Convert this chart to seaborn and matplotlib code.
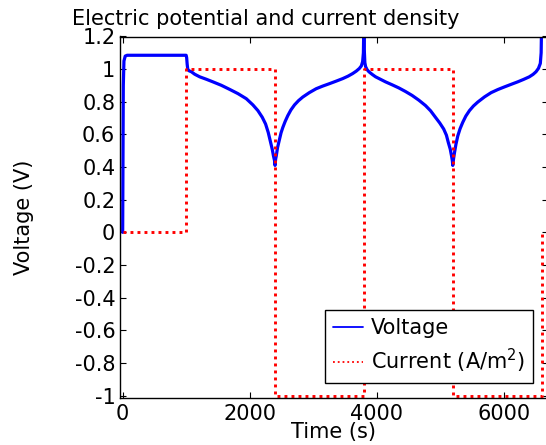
import matplotlib
matplotlib.use("Agg")
import matplotlib.pyplot as plt
from matplotlib.lines import Line2D
import pandas as pd
import seaborn as sns

# ---- data ----
# voltage (V) vs time (s), piecewise
time_rest = [0, 10, 20, 40, 70, 1000]
volt_rest = [0.0, 0.90, 1.05, 1.08, 1.085, 1.085]

time_dis1 = [1008, 1016, 1025, 1045, 1082, 1134, 1213, 1318, 1422, 1554, 1685, 1816, 1947,
             2051, 2130, 2199, 2251, 2293, 2325, 2356, 2376, 2392, 2400]
volt_dis1 = [1.07, 1.03, 1.00, 0.990, 0.984, 0.969, 0.953, 0.938, 0.922, 0.901, 0.876, 0.850, 0.819,
             0.781, 0.746, 0.705, 0.664, 0.612, 0.560, 0.509, 0.467, 0.440, 0.410]

time_chg1 = [2410, 2419, 2440, 2471, 2495, 2523, 2560, 2601, 2650, 2707, 2770, 2837, 2940, 3048,
             3150, 3257, 3360, 3466, 3550, 3623, 3680, 3728, 3760, 3780, 3792, 3800]
volt_chg1 = [0.45, 0.467, 0.52, 0.571, 0.61, 0.643, 0.68, 0.715, 0.75, 0.781, 0.807, 0.829, 0.856, 0.880,
             0.896, 0.911, 0.926, 0.942, 0.957, 0.973, 0.988, 1.004, 1.02, 1.046, 1.10, 1.30]

time_dis2 = [3806, 3815, 3827, 3850, 3879, 3930, 3984, 4060, 4141, 4245, 4350, 4455, 4559, 4665,
             4770, 4850, 4927, 4995, 5057, 5100, 5130, 5160, 5181, 5193, 5200]
volt_dis2 = [1.12, 1.04, 1.015, 0.997, 0.984, 0.968, 0.953, 0.938, 0.922, 0.904, 0.885, 0.863, 0.839, 0.810,
             0.777, 0.745, 0.705, 0.670, 0.633, 0.595, 0.550, 0.510, 0.467, 0.440, 0.410]

time_chg2 = [5212, 5227, 5250, 5279, 5315, 5357, 5405, 5463, 5525, 5593, 5700, 5804, 5910, 6013,
             6120, 6222, 6315, 6406, 6465, 6511, 6550, 6579, 6592, 6600]
volt_chg2 = [0.45, 0.488, 0.54, 0.591, 0.635, 0.674, 0.712, 0.746, 0.774, 0.798, 0.830, 0.856, 0.875, 0.891,
             0.907, 0.922, 0.937, 0.953, 0.968, 0.984, 1.005, 1.035, 1.10, 1.30]

# current density (A/m^2), step profile
time_curr = [0, 1000, 1000, 2400, 2400, 3800, 3800, 5200, 5200, 6600, 6600]
curr_vals = [0, 0, 1, 1, -1, -1, 1, 1, -1, -1, 0]

x_ticks = [0, 2000, 4000, 6000]
x_tick_labels = ["0", "2000", "4000", "6000"]
y_ticks = [-1.0, -0.8, -0.6, -0.4, -0.2, 0.0, 0.2, 0.4, 0.6, 0.8, 1.0, 1.2]
y_tick_labels = ["-1", "-0.8", "-0.6", "-0.4", "-0.2", "0", "0.2", "0.4", "0.6", "0.8", "1", "1.2"]

title_text = "Electric potential and current density"
series_names = ["Voltage", r"Current (A/m$^2$)"]

# ---- build frames ----
volt_df = pd.DataFrame({
    "time": time_rest + time_dis1 + time_chg1 + time_dis2 + time_chg2,
    "value": volt_rest + volt_dis1 + volt_chg1 + volt_dis2 + volt_chg2,
})
curr_df = pd.DataFrame({"time": time_curr, "value": curr_vals})

sns.set_style("ticks")
plt.rcParams["font.family"] = ["DejaVu Sans"]
plt.rcParams["font.size"] = 15
plt.rcParams["axes.unicode_minus"] = False
plt.rcParams["text.color"] = "black"
plt.rcParams["axes.labelcolor"] = "black"
plt.rcParams["xtick.color"] = "black"
plt.rcParams["ytick.color"] = "black"

W, H = 546, 445
fig = plt.figure(figsize=(W / 100, H / 100), dpi=100)
left, right, top, bottom = 119.5, 548.0, 36.5, 398.0
ax = fig.add_axes([left / W, 1 - bottom / H, (right - left) / W, (bottom - top) / H])

sns.lineplot(data=volt_df, x="time", y="value", ax=ax, sort=False, estimator=None,
             color="#0000ff", linewidth=2.3, solid_joinstyle="round")
sns.lineplot(data=curr_df, x="time", y="value", ax=ax, sort=False, estimator=None,
             color="#ff0000", linewidth=2.1, linestyle=(0, (1, 1.4)))

ax.set_xlim(-50, 6700)
ax.set_ylim(-1.015, 1.2)
ax.set_xticks(x_ticks)
ax.set_xticklabels(x_tick_labels)
ax.set_yticks(y_ticks)
ax.set_yticklabels(y_tick_labels)
ax.tick_params(direction="in", length=4, width=0.8, top=True, right=True,
               labelsize=15, color="black", labelcolor="black")
ax.tick_params(axis="x", pad=4)
ax.tick_params(axis="y", pad=3)
for s in ax.spines.values():
    s.set_color("black")
    s.set_linewidth(1.0)
    s.set_visible(True)

ax.set_xlabel("Time (s)", fontsize=15, color="black")
ax.set_ylabel("Voltage (V)", fontsize=15, color="black")
ax.xaxis.set_label_coords(0.5, -0.066)
ax.yaxis.set_label_coords(-0.2, 0.5)

fig.text(266 / W, 1 - 25 / H, title_text, ha="center", va="baseline", fontsize=15, color="black")

handles = [Line2D([], [], color="#0000ff", lw=1.3),
           Line2D([], [], color="#ff0000", lw=1.3, linestyle=":")]
leg = ax.legend(handles, series_names, loc="lower right",
                bbox_to_anchor=(0.965, 0.0415), borderaxespad=0, fontsize=15,
                fancybox=False, framealpha=1, edgecolor="black",
                handlelength=1.45, handletextpad=0.35, borderpad=0.4,
                labelspacing=0.4)
leg.get_frame().set_linewidth(1.0)
for t in leg.get_texts():
    t.set_color("black")

fig.savefig("out.png", dpi=100)
